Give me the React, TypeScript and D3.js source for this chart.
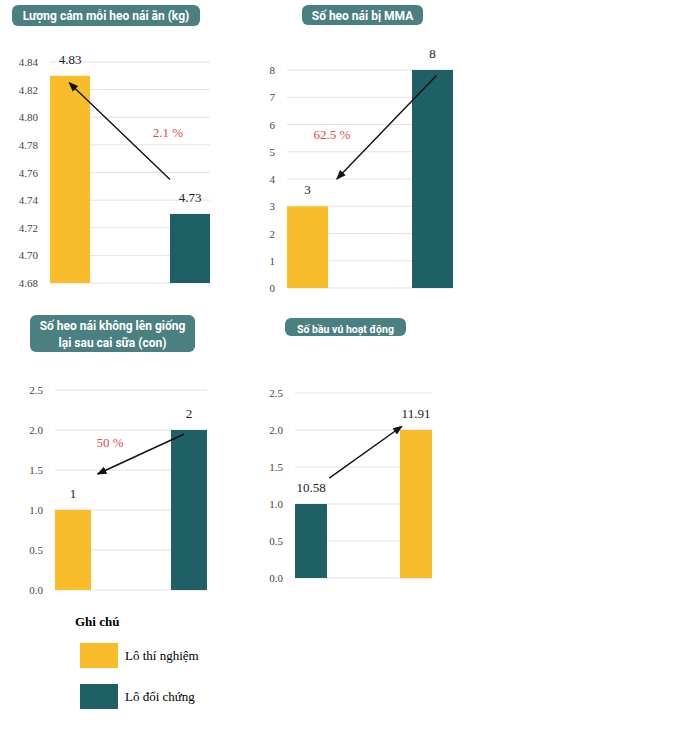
import * as d3 from 'd3';

const YELLOW = '#f9bd2c';
const TEAL = '#1f5f66';

const titles = [
  ['Lượng cám mỗi heo nái ăn (kg)'],
  ['Số heo nái bị MMA'],
  ['Số heo nái không lên giống', 'lại sau cai sữa (con)'],
  ['Số bầu vú hoạt động'],
];
const barValues = [[4.83, 4.73], [3, 8], [1, 2], [1, 2]];
const barLabels = [['4.83', '4.73'], ['3', '8'], ['1', '2'], ['10.58', '11.91']];
const barColors = [[YELLOW, TEAL], [YELLOW, TEAL], [YELLOW, TEAL], [TEAL, YELLOW]];
const domains: [number, number][] = [[4.68, 4.84], [0, 8], [0, 2.5], [0, 2.5]];
const tickValues = [
  [4.68, 4.7, 4.72, 4.74, 4.76, 4.78, 4.8, 4.82, 4.84],
  [0, 1, 2, 3, 4, 5, 6, 7, 8],
  [0, 0.5, 1, 1.5, 2, 2.5],
  [0, 0.5, 1, 1.5, 2, 2.5],
];
const tickFormats = ['.2f', 'd', '.1f', '.1f'];
const pctLabels = ['2.1 %', '62.5 %', '50 %', ''];
// arrow endpoints in data space: [barIndexFrom, valueFrom, barIndexTo, valueTo]
const arrows = [
  [0.75, 4.755, 0.12, 4.825],
  [0.9, 7.8, 0.3, 4],
  [0.85, 1.95, 0.28, 1.45],
  [0.25, 1.35, 0.78, 2.05],
];

// layout of each panel
const layout = [
  { x0: 50, x1: 210, y0: 283, y1: 62, top: 4.84, bw: 40, tb: { x: 12, y: 5, w: 188, h: 21 }, fs: 11, pct: [168, 137] },
  { x0: 287, x1: 453, y0: 288, y1: 70, top: 8, bw: 41, tb: { x: 302, y: 5, w: 121, h: 20 }, fs: 11, pct: [332, 139] },
  { x0: 55, x1: 207, y0: 590, y1: 390, top: 2.5, bw: 36, tb: { x: 30, y: 315, w: 165, h: 37 }, fs: 11, pct: [110, 447] },
  { x0: 295, x1: 432, y0: 578, y1: 393, top: 2.5, bw: 32, tb: { x: 285, y: 318, w: 121, h: 18 }, fs: 9.5, pct: [0, 0] },
];

function Panel({ i }: { i: number }) {
  const L = layout[i];
  const y = d3.scaleLinear().domain(domains[i]).range([L.y0, L.y1]);
  const x = d3.scaleLinear().domain([0, 1]).range([L.x0, L.x1 - L.bw]);
  const fmt = d3.format(tickFormats[i]);
  const [fa, fv, ta, tv] = arrows[i];
  const ax = (a: number) => L.x0 + a * (L.x1 - L.x0);
  return (
    <g>
      <rect x={L.tb.x} y={L.tb.y} width={L.tb.w} height={L.tb.h} rx={6} fill="#4b8080" />
      {titles[i].map((t, k) => (
        <text key={k} x={L.tb.x + L.tb.w / 2} y={L.tb.y + 15 + k * 17} textAnchor="middle"
          fill="#fff" fontWeight="bold" fontSize={L.fs + 1} fontFamily="Roboto, sans-serif">{t}</text>
      ))}
      {tickValues[i].map((t) => (
        <g key={t}>
          <line x1={L.x0} x2={L.x1} y1={y(t)} y2={y(t)} stroke="#e3e3e3" />
          <text x={L.x0 - 12} y={y(t) + 4} textAnchor="end" fontSize={11} fill="#444"
            fontFamily="'Liberation Serif', serif">{fmt(t)}</text>
        </g>
      ))}
      {barValues[i].map((v, k) => (
        <g key={k}>
          <rect x={x(k)} y={y(v)} width={L.bw} height={L.y0 - y(v)} fill={barColors[i][k]} />
          <text x={x(k) + L.bw / 2} y={y(v) - 12} textAnchor="middle" fontSize={13}
            fontFamily="'Liberation Serif', serif" fill="#222">{barLabels[i][k]}</text>
        </g>
      ))}
      <line x1={ax(fa)} y1={y(fv)} x2={ax(ta)} y2={y(tv)} stroke="#111" strokeWidth={1.4}
        markerEnd="url(#arr)" />
      {pctLabels[i] && (
        <text x={L.pct[0]} y={L.pct[1]} textAnchor="middle" fontSize={13} fill="#e04a4a"
          fontFamily="'Liberation Serif', serif">{pctLabels[i]}</text>
      )}
    </g>
  );
}

const legendItems = ['Lô thí nghiệm', 'Lô đối chứng'];
const legendColors = [YELLOW, TEAL];

export default function App() {
  return (
    <svg width={700} height={736} style={{ position: 'absolute', left: 0, top: 0, background: '#fff' }}>
      <defs>
        <marker id="arr" viewBox="0 0 10 10" refX={9} refY={5} markerWidth={7} markerHeight={7} orient="auto">
          <path d="M0,1 L10,5 L0,9 z" fill="#111" />
        </marker>
      </defs>
      {[0, 1, 2, 3].map((i) => <Panel key={i} i={i} />)}
      <text x={75} y={626} fontWeight="bold" fontSize={13} fontFamily="'Liberation Serif', serif">Ghi chú</text>
      {legendItems.map((t, k) => (
        <g key={t}>
          <rect x={80} y={643 + k * 41} width={38} height={25} fill={legendColors[k]} />
          <text x={125} y={660 + k * 41} fontSize={13} fontFamily="'Liberation Serif', serif">{t}</text>
        </g>
      ))}
    </svg>
  );
}
